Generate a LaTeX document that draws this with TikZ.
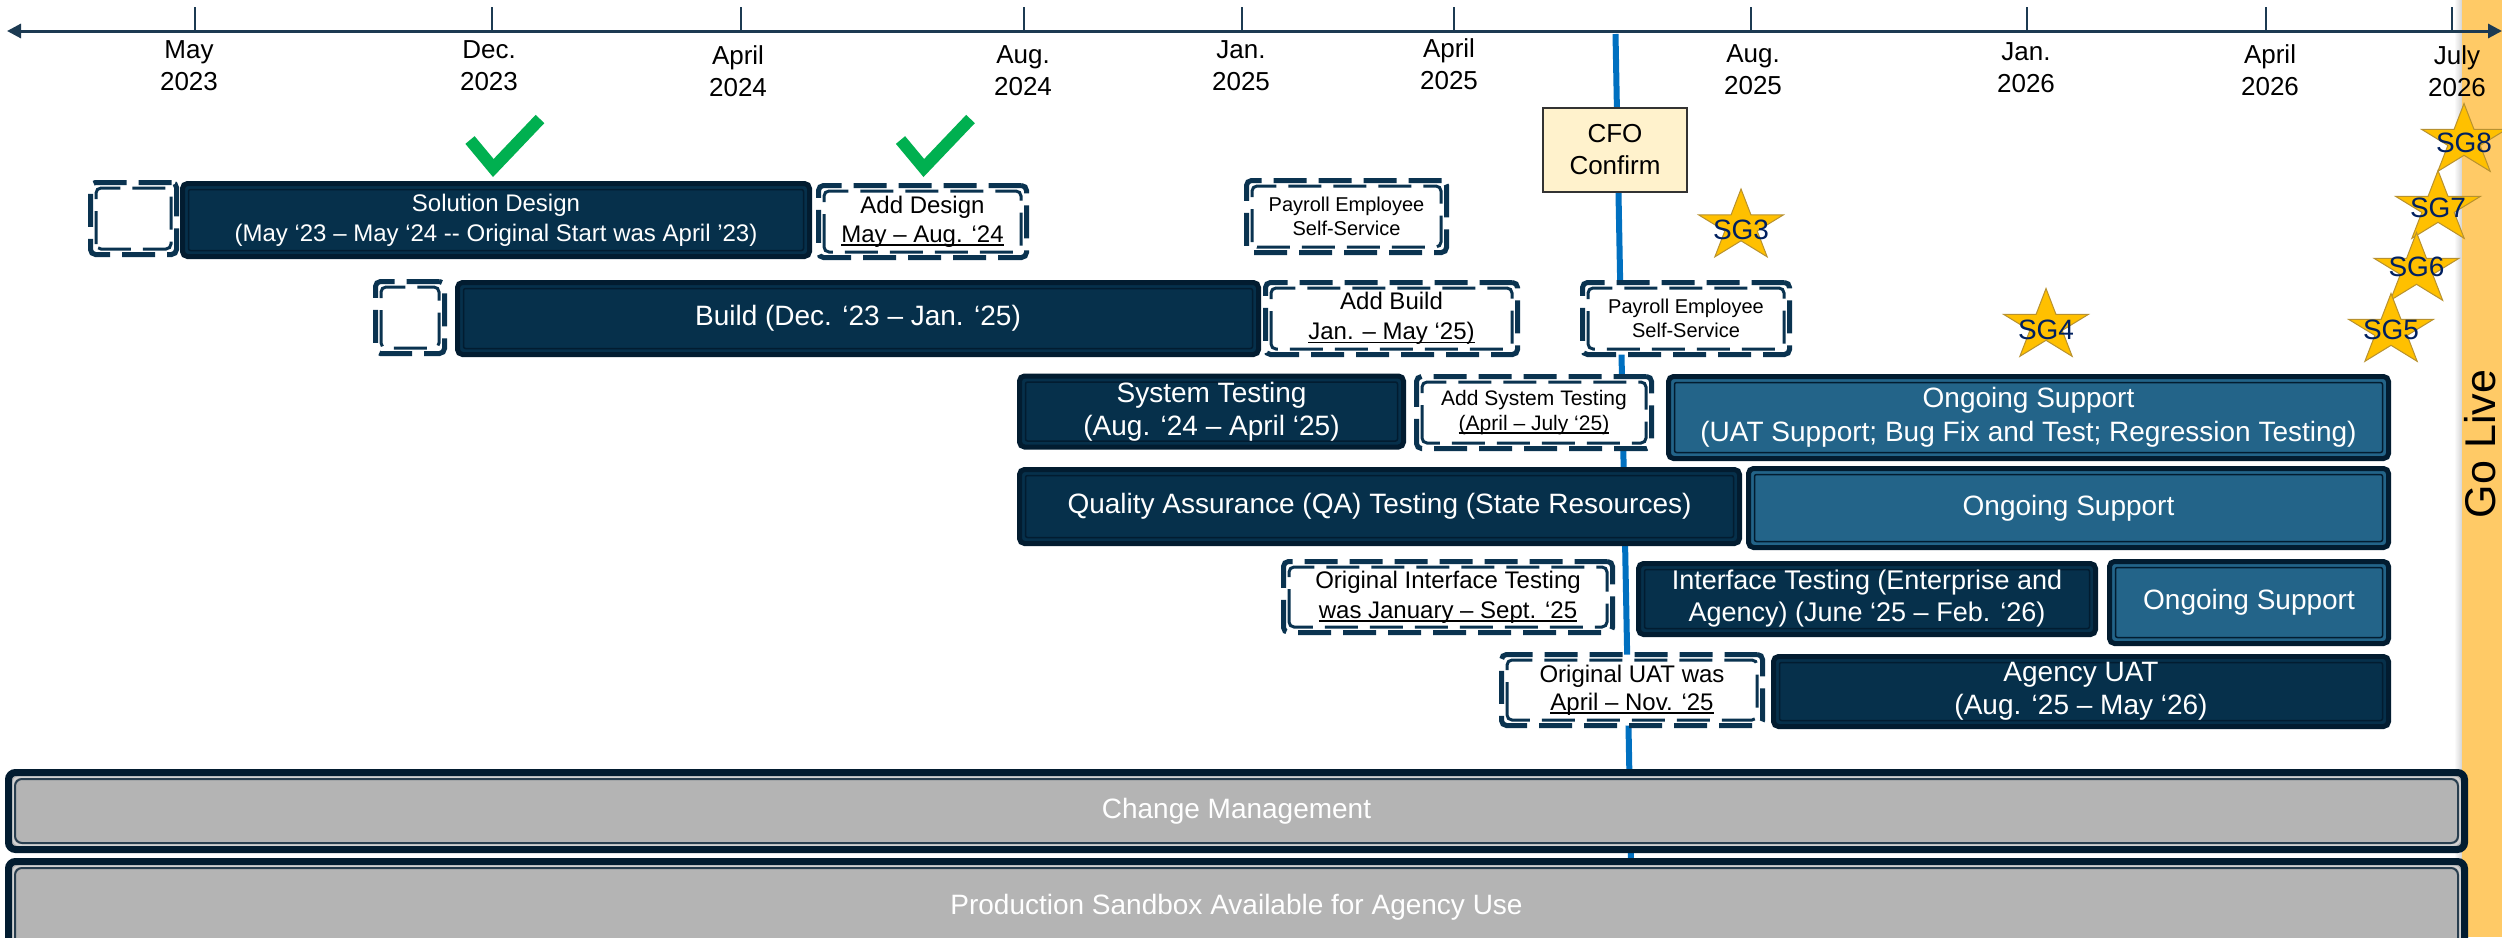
\documentclass[tikz,border=0pt]{standalone}
\usepackage{fontspec}
\setmainfont{Liberation Sans}
\usetikzlibrary{arrows.meta}
\definecolor{navyfill}{HTML}{06304B}
\definecolor{navyedge}{HTML}{021C30}
\definecolor{ogfill}{HTML}{236489}
\definecolor{grayfill}{HTML}{B4B4B4}
\definecolor{grayband}{HTML}{D2D2D2}
\definecolor{dashcol}{HTML}{0A3350}
\definecolor{axiscol}{HTML}{1C3A52}
\definecolor{cfoblue}{HTML}{0070C0}
\definecolor{cfofill}{HTML}{FFF2CC}
\definecolor{goldfill}{HTML}{FFC000}
\definecolor{goldline}{HTML}{B8912F}
\definecolor{sgtextcol}{HTML}{002060}
\definecolor{golivecol}{HTML}{FFCA66}
\definecolor{checkgreen}{HTML}{00B050}
\newcommand\myul[1]{\setbox0=\hbox{#1}\rlap{\rule[-3.5pt]{\wd0}{1.6pt}}\box0}
\tikzset{
  barbase/.style={rectangle, rounded corners=5pt, line width=5pt, inner sep=0pt, align=center, text=white},
  navybar/.style={barbase, fill=navyfill, draw=navyedge, font=\fontsize{28}{33}\selectfont,
    path picture={\draw[navyedge, line width=1.5pt, rounded corners=2pt] ([shift={(6pt,6pt)}]path picture bounding box.south west) rectangle ([shift={(-6pt,-6pt)}]path picture bounding box.north east);}},
  ogbar/.style={barbase, fill=ogfill, draw=navyedge, font=\fontsize{28}{34}\selectfont,
    path picture={\draw[navyedge, line width=1.5pt, rounded corners=2pt] ([shift={(6pt,6pt)}]path picture bounding box.south west) rectangle ([shift={(-6pt,-6pt)}]path picture bounding box.north east);}},
  graybar/.style={barbase, line width=7pt, rounded corners=7pt, fill=grayfill, draw=navyedge, font=\fontsize{28}{33}\selectfont,
    path picture={\draw[grayband, line width=2pt] ([shift={(4.5pt,4.5pt)}]path picture bounding box.south west) rectangle ([shift={(-4.5pt,-4.5pt)}]path picture bounding box.north east);
      \draw[navyedge!85, line width=2pt] ([shift={(6.5pt,6.5pt)}]path picture bounding box.south west) rectangle ([shift={(-6.5pt,-6.5pt)}]path picture bounding box.north east);}},
  dbox/.style={rectangle, rounded corners=5pt, fill=white, draw=dashcol, line width=5pt, dash pattern=on 33pt off 12pt, inner sep=0pt, align=center, text=black, font=\fontsize{24}{29}\selectfont,
    path picture={\draw[dashcol, line width=3pt, dash pattern=on 33pt off 12pt] ([shift={(5.5pt,5.5pt)}]path picture bounding box.south west) rectangle ([shift={(-5.5pt,-5.5pt)}]path picture bounding box.north east);}},
  axlabel/.style={align=center, inner sep=0pt, font=\fontsize{26}{32}\selectfont, text=black},
  tickline/.style={axiscol, line width=2pt},
  axisline/.style={axiscol, line width=3pt, {Triangle[length=14pt,width=14pt]}-{Triangle[length=14pt,width=14pt]}},
  cfobox/.style={rectangle, fill=cfofill, draw=black!80, line width=1.2pt, align=center, inner sep=0pt, font=\fontsize{26}{32}\selectfont},
  cfoline/.style={cfoblue, line width=6pt},
  checkmk/.style={checkgreen, line width=12pt, line join=miter},
  sgstar/.style={fill=goldfill, draw=goldline, line width=1pt},
  sgtext/.style={text=sgtextcol, inner sep=0pt, font=\fontsize{28}{28}\selectfont},
}
\newcommand\drawsgstar[3]{%
  \coordinate (#1) at (#2,#3);
  \filldraw[sgstar, shift={(#2,#3)}, xscale=1.187] (270:37.5) -- (306:14.3) -- (342:37.5) -- (18:14.3) -- (54:37.5) -- (90:14.3) -- (126:37.5) -- (162:14.3) -- (198:37.5) -- (234:14.3) -- cycle;
}
\begin{document}
\begin{tikzpicture}[x=1pt,y=-1pt]
\useasboundingbox (0,0) rectangle (2502,937);
\clip (0,0) rectangle (2502,937);
\fill[white] (0,0) rectangle (2502,937);
% CFO line (behind everything)
\coordinate (cfotop) at (1615.5,34);
\coordinate (cfobot) at (1632.5,940);
\draw[cfoline] (cfotop) -- (cfobot);
% Go Live band
\shade[left color=white, right color=black!18] (2454,0) rectangle (2462.5,937);
\fill[golivecol] (2462,0) rectangle (2502,937);
\node[rotate=90, anchor=base, inner sep=0pt, text depth=0pt, font=\fontsize{43}{43}\selectfont] (golive) at (2495,444) {Go Live};
% axis
\coordinate (axL) at (7,31);
\coordinate (axR) at (2502,31);
\foreach \tx in {195,492,741,1024,1242,1454,1751,2027,2266,2452} {\draw[tickline] (\tx,7) -- (\tx,31);}
\draw[axisline] (axL) -- (axR);
\node[axlabel] (t1) at (189,66) {May\\2023};
\node[axlabel] (t2) at (489,66) {Dec.\\2023};
\node[axlabel] (t3) at (738,71) {April\\2024};
\node[axlabel] (t4) at (1023,71) {Aug.\\2024};
\node[axlabel] (t5) at (1241,66) {Jan.\\2025};
\node[axlabel] (t6) at (1449,64) {April\\2025};
\node[axlabel] (t7) at (1753,70) {Aug.\\2025};
\node[axlabel] (t8) at (2026,67.5) {Jan.\\2026};
\node[axlabel] (t9) at (2270,70) {April\\2026};
\node[axlabel] (t10) at (2457,71.5) {July\\2026};
% bars
\node[navybar, minimum width=627pt, minimum height=73pt, font=\fontsize{24}{30}\selectfont] (solution) at (496,220) {Solution Design\\(May ‘23 – May ‘24 -{}- Original Start was April ’23)};
\node[navybar, minimum width=801pt, minimum height=72pt] (build) at (858,318.5) {Build (Dec. ‘23 – Jan. ‘25)};
\node[navybar, minimum width=384pt, minimum height=71pt] (systest) at (1211.5,411.5) {System Testing\\(Aug. ‘24 – April ‘25)};
\node[navybar, minimum width=720pt, minimum height=74pt] (qa) at (1379.5,506.5) {Quality Assurance (QA) Testing (State Resources)};
\node[navybar, minimum width=457pt, minimum height=71pt, font=\fontsize{27}{32}\selectfont] (iface) at (1867,599) {Interface Testing (Enterprise and\\Agency) (June ‘25 – Feb. ‘26)};
\node[navybar, minimum width=615pt, minimum height=70pt] (agency) at (2081,691.5) {Agency UAT\\(Aug. ‘25 – May ‘26)};
\node[ogbar, minimum width=720pt, minimum height=82pt] (og1) at (2028.5,417.5) {Ongoing Support\\(UAT Support; Bug Fix and Test; Regression Testing)};
\node[ogbar, minimum width=640pt, minimum height=79pt] (og2) at (2068.5,508) {Ongoing Support};
\node[ogbar, minimum width=279pt, minimum height=82pt] (og3) at (2249,602.5) {Ongoing Support};
\node[graybar, minimum width=2456pt, minimum height=77pt] (cm) at (1236.5,811) {Change Management};
\node[graybar, minimum width=2456pt, minimum height=91pt] (ps) at (1236.5,907) {Production Sandbox Available for Agency Use};
% dashed boxes
\node[dbox, minimum width=86pt, minimum height=72pt] (d0) at (133.5,218.5) {};
\node[dbox, minimum width=69pt, minimum height=72pt] (d1) at (410,317.5) {};
\node[dbox, minimum width=208pt, minimum height=72pt] (adddesign) at (922.5,221.5) {Add Design\\\myul{May – Aug. ‘24}};
\node[dbox, minimum width=200pt, minimum height=72pt, font=\fontsize{20}{23.5}\selectfont] (payroll1) at (1346.5,216.5) {Payroll Employee\\Self-Service};
\node[dbox, minimum width=252pt, minimum height=72pt, font=\fontsize{24}{30}\selectfont] (addbuild) at (1391.5,318.5) {Add Build\\\myul{Jan. – May ‘25)}};
\node[dbox, minimum width=207pt, minimum height=72pt, font=\fontsize{20}{24}\selectfont] (payroll2) at (1686,318.5) {Payroll Employee\\Self-Service};
\node[dbox, minimum width=235pt, minimum height=72pt, font=\fontsize{21}{25}\selectfont] (addsys) at (1534,412.5) {Add System Testing\\\myul{(April – July ‘25)}};
\node[dbox, minimum width=329pt, minimum height=71pt, font=\fontsize{24}{30}\selectfont] (origif) at (1448,597) {Original Interface Testing\\\myul{was January – Sept. ‘25}};
\node[dbox, minimum width=261pt, minimum height=71pt, font=\fontsize{24}{28}\selectfont] (origuat) at (1632,690) {Original UAT was\\\myul{April – Nov. ‘25}};
% CFO box
\node[cfobox, minimum width=144pt, minimum height=84pt] (cfo) at (1615,150) {CFO\\Confirm};
% check marks
\draw[checkmk] (470,140) -- (493.3,168) -- (540,119);
\draw[checkmk] (900.5,140) -- (923.8,168) -- (970.5,119);
% stars
\drawsgstar{s3}{1741}{226.5}
\node[sgtext] (sg3) at (1741,230) {SG3};
\drawsgstar{s4}{2046}{326}
\node[sgtext] (sg4) at (2046,330) {SG4};
\drawsgstar{s8}{2464}{141}
\node[sgtext] (sg8) at (2464,143) {SG8};
\drawsgstar{s7}{2438}{208}
\node[sgtext] (sg7) at (2438,208) {SG7};
\drawsgstar{s6}{2416.5}{270}
\node[sgtext] (sg6) at (2416.5,267) {SG6};
\drawsgstar{s5}{2391}{331}
\node[sgtext] (sg5) at (2391,330) {SG5};
\end{tikzpicture}
\end{document}
